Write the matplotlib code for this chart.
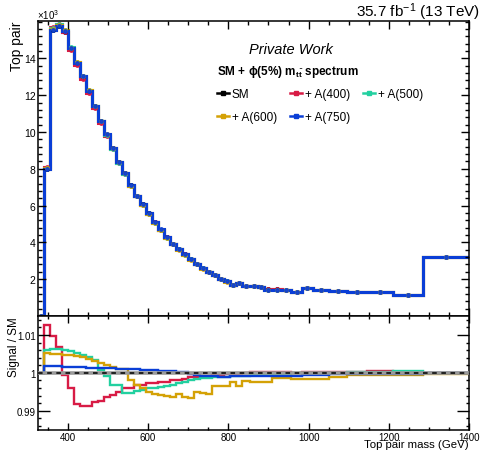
import numpy as np
import matplotlib
matplotlib.use('Agg')
import matplotlib.pyplot as plt
from matplotlib.ticker import MultipleLocator
from matplotlib.lines import Line2D

plt.rcParams['font.family'] = ['Liberation Sans', 'DejaVu Sans']
plt.rcParams['mathtext.fontset'] = 'custom'
plt.rcParams['mathtext.rm'] = 'Liberation Sans'
plt.rcParams['mathtext.it'] = 'Liberation Sans:italic'
plt.rcParams['mathtext.bf'] = 'Liberation Sans:bold'

# bin edges of the m_tt histogram (GeV)
edges = [325, 340, 355, 370, 385, 400, 415, 430, 445, 460, 475, 490, 505, 520,
         535, 550, 565, 580, 595, 610, 625, 640, 655, 670, 685, 700, 715, 730,
         745, 760, 775, 790, 805, 820, 835, 855, 873, 890, 910, 933, 957, 983,
         1010, 1050, 1095, 1145, 1210, 1285, 1400]

# SM yield per bin (x10^3)
sm = [0.0, 8.0, 15.53, 15.75, 15.45, 14.52, 13.73, 13.01, 12.23, 11.40, 10.59,
      9.86, 9.12, 8.36, 7.75, 7.10, 6.53, 6.07, 5.58, 5.10, 4.70, 4.28, 3.92,
      3.63, 3.35, 3.09, 2.84, 2.59, 2.41, 2.25, 2.02, 1.88,
      1.71, 1.82, 1.64, 1.64, 1.57, 1.44, 1.44, 1.39, 1.30, 1.50, 1.39, 1.34,
      1.32, 1.28, 1.14, 3.23]

# signal / SM per bin
ratio_a400 = [1.0, 1.0125, 1.0097, 1.0068, 0.9994, 0.9961, 0.9919, 0.9912, 0.9912,
              0.9924, 0.9925, 0.9935, 0.9941, 0.9949, 0.9959, 0.9961, 0.9968, 0.9968,
              0.9972, 0.9972, 0.9976, 0.9976, 0.9981, 0.9982, 0.9985, 0.9988, 0.9990,
              0.9992, 0.9993, 0.9994, 0.9995, 0.9996,
              0.9997, 0.9998, 0.9999, 1.0002, 1.0002, 1.0001, 1.0001, 1.0001, 1.0,
              1.0001, 1.0001, 1.0001, 1.0001, 1.0004, 1.0002, 1.0]
ratio_a500 = [1.0, 1.0061, 1.0062, 1.0062, 1.0060, 1.0057, 1.0053, 1.0047, 1.0041,
              1.0033, 1.0007, 0.9991, 0.9968, 0.9968, 0.9947, 0.9948, 0.9953, 0.9956,
              0.9960, 0.9961, 0.9963, 0.9964, 0.9967, 0.9972, 0.9976, 0.9980, 0.9984,
              0.9986, 0.9987, 0.9988, 0.9989, 0.9990,
              0.9991, 0.9992, 0.9993, 0.9994, 0.9995, 0.9996, 0.9997, 0.9998, 0.9999,
              1.0, 1.0, 1.0, 1.0001, 1.0001, 1.0004, 0.9999]
ratio_a600 = [1.0, 1.0053, 1.0051, 1.0050, 1.0048, 1.0047, 1.0045, 1.0042, 1.0036,
              1.0032, 1.0025, 1.0020, 1.0016, 1.0011, 1.0009, 0.9981, 0.9968, 0.9959,
              0.9950, 0.9944, 0.9941, 0.9938, 0.9935, 0.9945, 0.9935, 0.9933, 0.9949,
              0.9947, 0.9945, 0.9965, 0.9965, 0.9965,
              0.9977, 0.9965, 0.9978, 0.9977, 0.9977, 0.9977, 0.9986, 0.9986, 0.9985,
              0.9985, 0.9985, 0.9989, 0.9994, 0.9995, 0.9995, 0.9996]
ratio_a750 = [1.0, 1.0018, 1.0017, 1.0017, 1.0016, 1.0016, 1.0015, 1.0015, 1.0014,
              1.0013, 1.0013, 1.0012, 1.0012, 1.0011, 1.0010, 1.0010, 1.0009, 1.0008,
              1.0008, 1.0007, 1.0006, 1.0005, 1.0004, 1.0003, 1.0001, 0.9997, 0.9995,
              0.9993, 0.9992, 0.9991, 0.9990, 0.9990,
              0.9991, 0.9991, 0.9991, 0.9991, 0.9992, 0.9992, 0.9992, 0.9993, 0.9993,
              0.9994, 0.9995, 0.9996, 0.9996, 0.9997, 0.9998, 1.0]

labels = ['+ A(400)', '+ A(500)', '+ A(600)', '+ A(750)']
colors = ['#d81b45', '#22d0a0', '#d4a106', '#0a3ed6']
ratios = [ratio_a400, ratio_a500, ratio_a600, ratio_a750]

edges = np.array(edges, dtype=float)
sm = np.array(sm)
centers = 0.5 * (edges[1:] + edges[:-1])

fig = plt.figure(figsize=(4.82, 4.52), dpi=100)
ax = fig.add_axes([0.0782, 0.2987, 0.895, 0.6533])
rax = fig.add_axes([0.0782, 0.0471, 0.895, 0.2516], sharex=ax)

# top panel: spectra
ax.stairs(sm, edges, baseline=None, color='black', lw=2.2)
ax.plot(centers, sm, 'o', color='black', ms=2.5)
for r, c in zip(ratios, colors):
    sig = sm * np.array(r)
    ax.stairs(sig, edges, baseline=None, color=c, lw=2.2)
    ax.plot(centers, sig, 'o', color=c, ms=2.5, mec=c, alpha=0.9)

ax.set_xlim(325, 1400)
ax.set_ylim(0, 16.05)
ax.set_yticks([2, 4, 6, 8, 10, 12, 14])
ax.yaxis.set_minor_locator(MultipleLocator(0.4))
ax.set_ylabel('Top pair', fontsize=10, loc='top')
ax.yaxis.set_label_coords(-0.032, 1.0)

# bottom panel: ratios
for r, c in zip(ratios, colors):
    rax.stairs(r, edges, baseline=None, color=c, lw=1.7)
rax.axhline(1.0, color='#9a9a9a', lw=2.6, zorder=4)
rax.axhline(1.0, color='black', lw=1.1, ls=(0, (3, 3)), zorder=5)
rax.set_ylim(0.985, 1.015)
rax.set_yticks([0.99, 1.0, 1.01])
rax.set_yticklabels(['0.99', '1', '1.01'])
rax.yaxis.set_minor_locator(MultipleLocator(0.002))
rax.set_ylabel('Signal / SM', fontsize=8.4, loc='top')
rax.yaxis.set_label_coords(-0.042, 1.0)
rax.set_xlabel('Top pair mass (GeV)', fontsize=8.2, loc='right')
rax.xaxis.set_label_coords(1.0, -0.08)

for a in (ax, rax):
    a.xaxis.set_major_locator(MultipleLocator(200))
    a.xaxis.set_minor_locator(MultipleLocator(50))
    a.tick_params(which='both', direction='in', top=True, right=True, width=1.0)
    for s in a.spines.values():
        s.set_linewidth(1.1)
ax.tick_params(which='major', length=5.5, labelsize=7.5, pad=1.5)
ax.tick_params(which='minor', length=2.8)
ax.tick_params(axis='x', labelbottom=False)
rax.tick_params(which='major', length=5, labelsize=7, pad=1.5)
rax.tick_params(which='minor', length=2.5)
rax.tick_params(axis='y', which='major', length=8.5)

# texts
fig.text(37 / 482, 1 - 20 / 452, r'$\times$10$^{3}$', fontsize=7, va='baseline')
fig.text(480 / 482, 1 - 17 / 452, r'35.7 fb$^{-1}$ (13 TeV)', fontsize=11,
         ha='right', va='baseline')
fig.text(291 / 482, 1 - 50 / 452, 'Private Work', fontsize=10.5, style='italic',
         ha='center', va='center')
fig.text(217 / 482, 1 - 72 / 452, r'SM + ϕ(5%) m$_{\mathbf{t\bar{t}}}$ spectrum',
         fontsize=8.5, fontweight='bold', va='center')

# legend, filled row-wise: SM, A400, A500 / A600, A750
handles = [Line2D([], [], color='black', lw=1.8, marker='s', ms=2.5)]
names = ['SM']
for lab, c in zip(labels, colors):
    handles.append(Line2D([], [], color=c, lw=1.8, marker='s', ms=2.5))
    names.append(lab)
order = [0, 3, 1, 4, 2]
fig.legend([handles[i] for i in order], [names[i] for i in order], ncol=3,
           loc='upper left', bbox_to_anchor=(217 / 482, 1 - 89 / 452),
           frameon=False, fontsize=8.5, borderpad=0, borderaxespad=0,
           handlelength=1.0, handletextpad=0.25, columnspacing=1.1,
           labelspacing=0.95)

fig.savefig('out.png', dpi=100)
